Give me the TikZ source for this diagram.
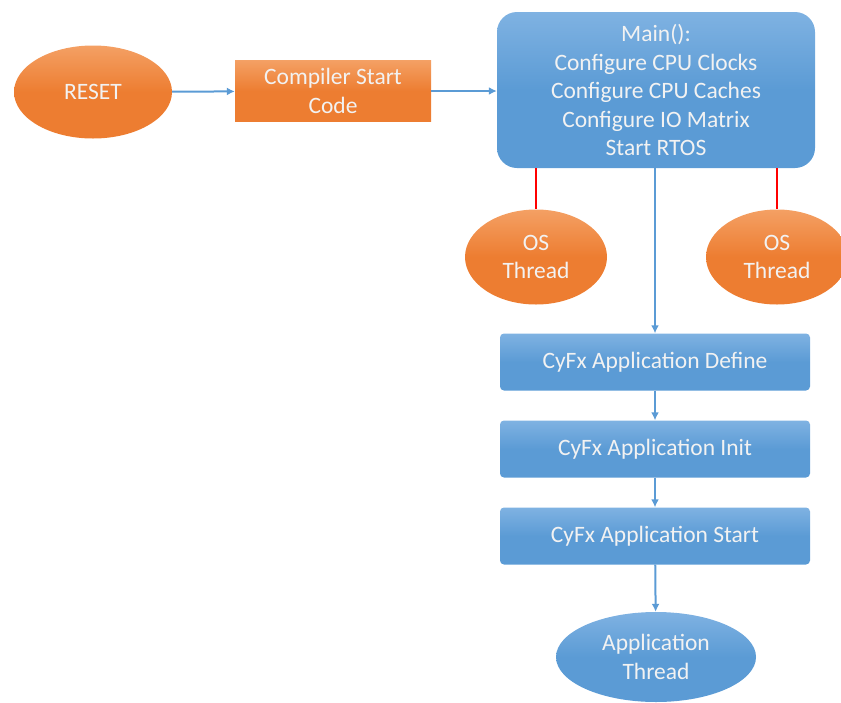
\documentclass[tikz,border=0pt]{standalone}
\usepackage{fontspec}
\setmainfont{Carlito}
\usetikzlibrary{shapes.geometric,arrows.meta,shadows}
\definecolor{orng}{HTML}{ED7D31}
\definecolor{orngl}{HTML}{F4A064}
\definecolor{blu}{HTML}{5B9BD5}
\definecolor{blul}{HTML}{7FB2E2}
\definecolor{arr}{HTML}{5B9BD5}
\definecolor{txt}{HTML}{F2F2F2}
\begin{document}
\begin{tikzpicture}[x=1pt,y=1pt,
  every node/.style={text=txt,font=\fontsize{23.5}{28.5}\selectfont,align=center,inner sep=0pt},
  oval/.style={ellipse,top color=orngl,bottom color=orng,middle color=orng,draw=none},
  obox/.style={rectangle,top color=orngl,bottom color=orng,middle color=orng},
  bbox/.style={rectangle,rounded corners=4pt,top color=blul,bottom color=blu,middle color=blu,minimum width=310pt,minimum height=57pt},
  boval/.style={ellipse,top color=blul,bottom color=blu,middle color=blu},
  flow/.style={draw=arr,line width=2pt,-{Latex[length=8pt,width=8pt]}},
  redl/.style={draw=red,line width=2.2pt}]
\useasboundingbox (0,0) rectangle (841,-702);
\node[oval,minimum width=158pt,minimum height=93pt] (reset) at (93,-92) {RESET};
\node[obox,minimum width=196pt,minimum height=61pt] (csc) at (333,-91) {Compiler Start\\Code};
\node[rectangle,rounded corners=20pt,top color=blul,bottom color=blu,middle color=blu,minimum width=318pt,minimum height=156pt] (main) at (656,-90)
  {Main():\\Configure CPU Clocks\\Configure CPU Caches\\Configure IO Matrix\\Start RTOS};
\node[oval,minimum width=142pt,minimum height=95pt] (os1) at (536,-257) {OS\\Thread};
\node[oval,minimum width=142pt,minimum height=95pt] (os2) at (777,-257) {OS\\Thread};
\node[bbox] (def) at (655,-362) {CyFx Application Define};
\node[bbox] (init) at (655,-449) {CyFx Application Init};
\node[bbox] (start) at (655,-536) {CyFx Application Start};
\node[boval,minimum width=200pt,minimum height=90pt] (app) at (656,-657) {Application\\Thread};
\draw[flow] (reset) -- (csc);
\draw[flow] (csc.east) -- (main.west |- csc.east);
\draw[redl] (os1.north |- main.south) -- (os1.north);
\draw[redl] (os2.north |- main.south) -- (os2.north);
\draw[flow] (main.south -| def.north) -- (def.north);
\draw[flow] (def) -- (init);
\draw[flow] (init) -- (start);
\draw[flow] (start) -- (app);
\end{tikzpicture}
\end{document}
